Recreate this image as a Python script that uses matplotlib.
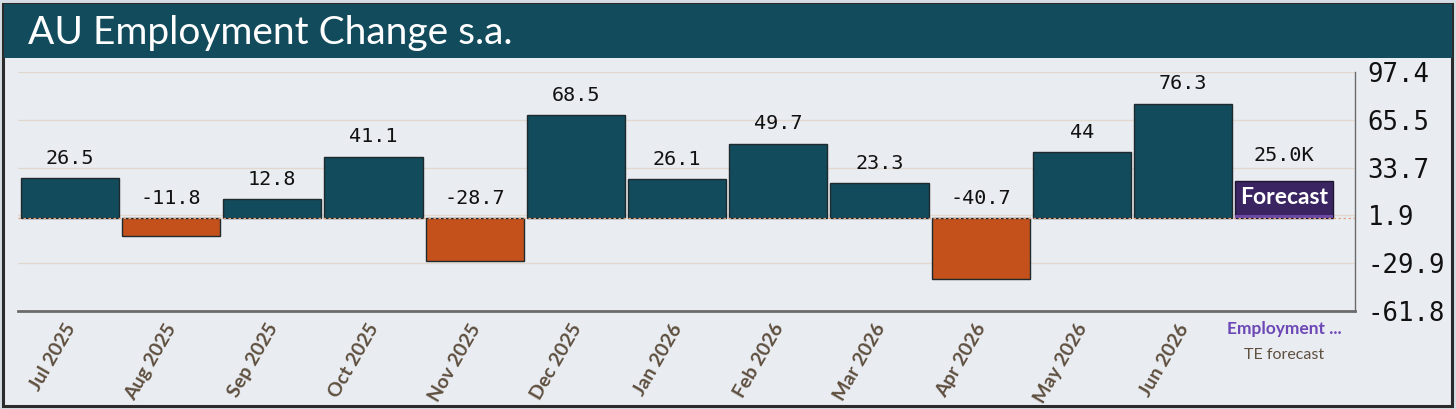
import matplotlib.pyplot as plt
from matplotlib.patches import Rectangle
from matplotlib.transforms import ScaledTranslation

months = ['Jul 2025', 'Aug 2025', 'Sep 2025', 'Oct 2025', 'Nov 2025', 'Dec 2025',
          'Jan 2026', 'Feb 2026', 'Mar 2026', 'Apr 2026', 'May 2026', 'Jun 2026']
values = [26.5, -11.8, 12.8, 41.1, -28.7, 68.5, 26.1, 49.7, 23.3, -40.7, 44, 76.3]
value_labels = ['26.5', '-11.8', '12.8', '41.1', '-28.7', '68.5',
                '26.1', '49.7', '23.3', '-40.7', '44', '76.3']
forecast_value = 25.0
forecast_label = '25.0K'
y_ticks = [97.4, 65.5, 33.7, 1.9, -29.9, -61.8]

teal = '#124b5c'
orange = '#c4511b'
purple = '#3a2462'
brown = '#5e4f3f'

W, H = 1456, 409
fig = plt.figure(figsize=(W / 100, H / 100), dpi=100)
fig.patch.set_facecolor('#d6dce4')

# frame and title bar
fig.patches.append(Rectangle((3 / W, 3 / H), 1449 / W, 402 / H, transform=fig.transFigure,
                             facecolor='#e9ecf1', edgecolor='#2b2b2b', lw=2.2, zorder=-2))
fig.patches.append(Rectangle((4 / W, 1 - 58 / H), 1448 / W, 54 / H, transform=fig.transFigure,
                             facecolor=teal, edgecolor='none', zorder=-1))
fig.text(28 / W, 1 - 33 / H, 'AU Employment Change s.a.', color='white', fontsize=28,
         family='Lato', va='center', ha='left')

ax = fig.add_axes([18 / W, 1 - 311 / H, (1355 - 18) / W, (311 - 72) / H])
ax.set_zorder(2)
ax.set_facecolor('none')

x = list(range(len(months)))
colors = [teal if v >= 0 else orange for v in values]
ax.bar(x, values, width=0.97, color=colors, edgecolor='#1e2a2e', linewidth=1, zorder=3)

fx = len(months)
ax.bar([fx], [forecast_value], width=0.97, color=purple, edgecolor='#1e1530', linewidth=1, zorder=3)
ax.bar([fx], [2.2], width=0.97, color='#6b4aa6', edgecolor='none', zorder=4)
ax.text(fx, forecast_value / 2 + 1, 'Forecast', color='white', fontsize=16.5, fontweight='bold',
        family='Lato', ha='center', va='center', zorder=5)

for xi, v, lab in zip(x, values, value_labels):
    ax.annotate(lab, (xi, max(v, 0)), xytext=(0, 20), textcoords='offset pixels',
                ha='center', va='center', fontsize=14.5, family='DejaVu Sans Mono', color='#111111')
ax.annotate(forecast_label, (fx, forecast_value), xytext=(0, 25), textcoords='offset pixels',
            ha='center', va='center', fontsize=14.5, family='DejaVu Sans Mono', color='#111111')

ax.axhline(0, color='#e3a27c', lw=0.9, ls=(0, (2, 2)), zorder=4)

ax.set_xlim(-0.514, 12.70)
ax.set_ylim(-61.8, 97.4)
ax.set_yticks(y_ticks)
ax.set_yticklabels([f'{t}' for t in y_ticks], family='DejaVu Sans Mono', fontsize=18.5, color='#111111')
ax.yaxis.tick_right()
ax.tick_params(axis='y', length=0, pad=9)
ax.grid(axis='y', color='#e2d8d0', lw=1, zorder=0)

ax.set_xticks(x)
ax.set_xticklabels(months, rotation=60, ha='right', rotation_mode='anchor', fontsize=14,
                   family='Lato', fontweight='bold', color=brown)
ax.tick_params(axis='x', length=0, pad=7)
shift = ScaledTranslation(-6 / 100, 0, fig.dpi_scale_trans)
for lbl in ax.get_xticklabels():
    lbl.set_transform(lbl.get_transform() + shift)

for s in ['top', 'left']:
    ax.spines[s].set_visible(False)
ax.spines['bottom'].set_color('#6b6b6b')
ax.spines['bottom'].set_linewidth(2)
ax.spines['right'].set_color('#6b6b6b')
ax.spines['right'].set_linewidth(1)

# forecast column labels
ax.annotate('Employment ...', (fx, 0), xycoords=('data', 'axes fraction'), xytext=(0, -18),
            textcoords='offset pixels', ha='center', va='center', fontsize=12.5,
            fontweight='bold', family='Lato', color='#6c47b5')
ax.annotate('TE forecast', (fx, 0), xycoords=('data', 'axes fraction'), xytext=(0, -44),
            textcoords='offset pixels', ha='center', va='center', fontsize=11.5,
            family='Lato', color=brown)

fig.savefig('out.png', dpi=100, facecolor=fig.get_facecolor())
